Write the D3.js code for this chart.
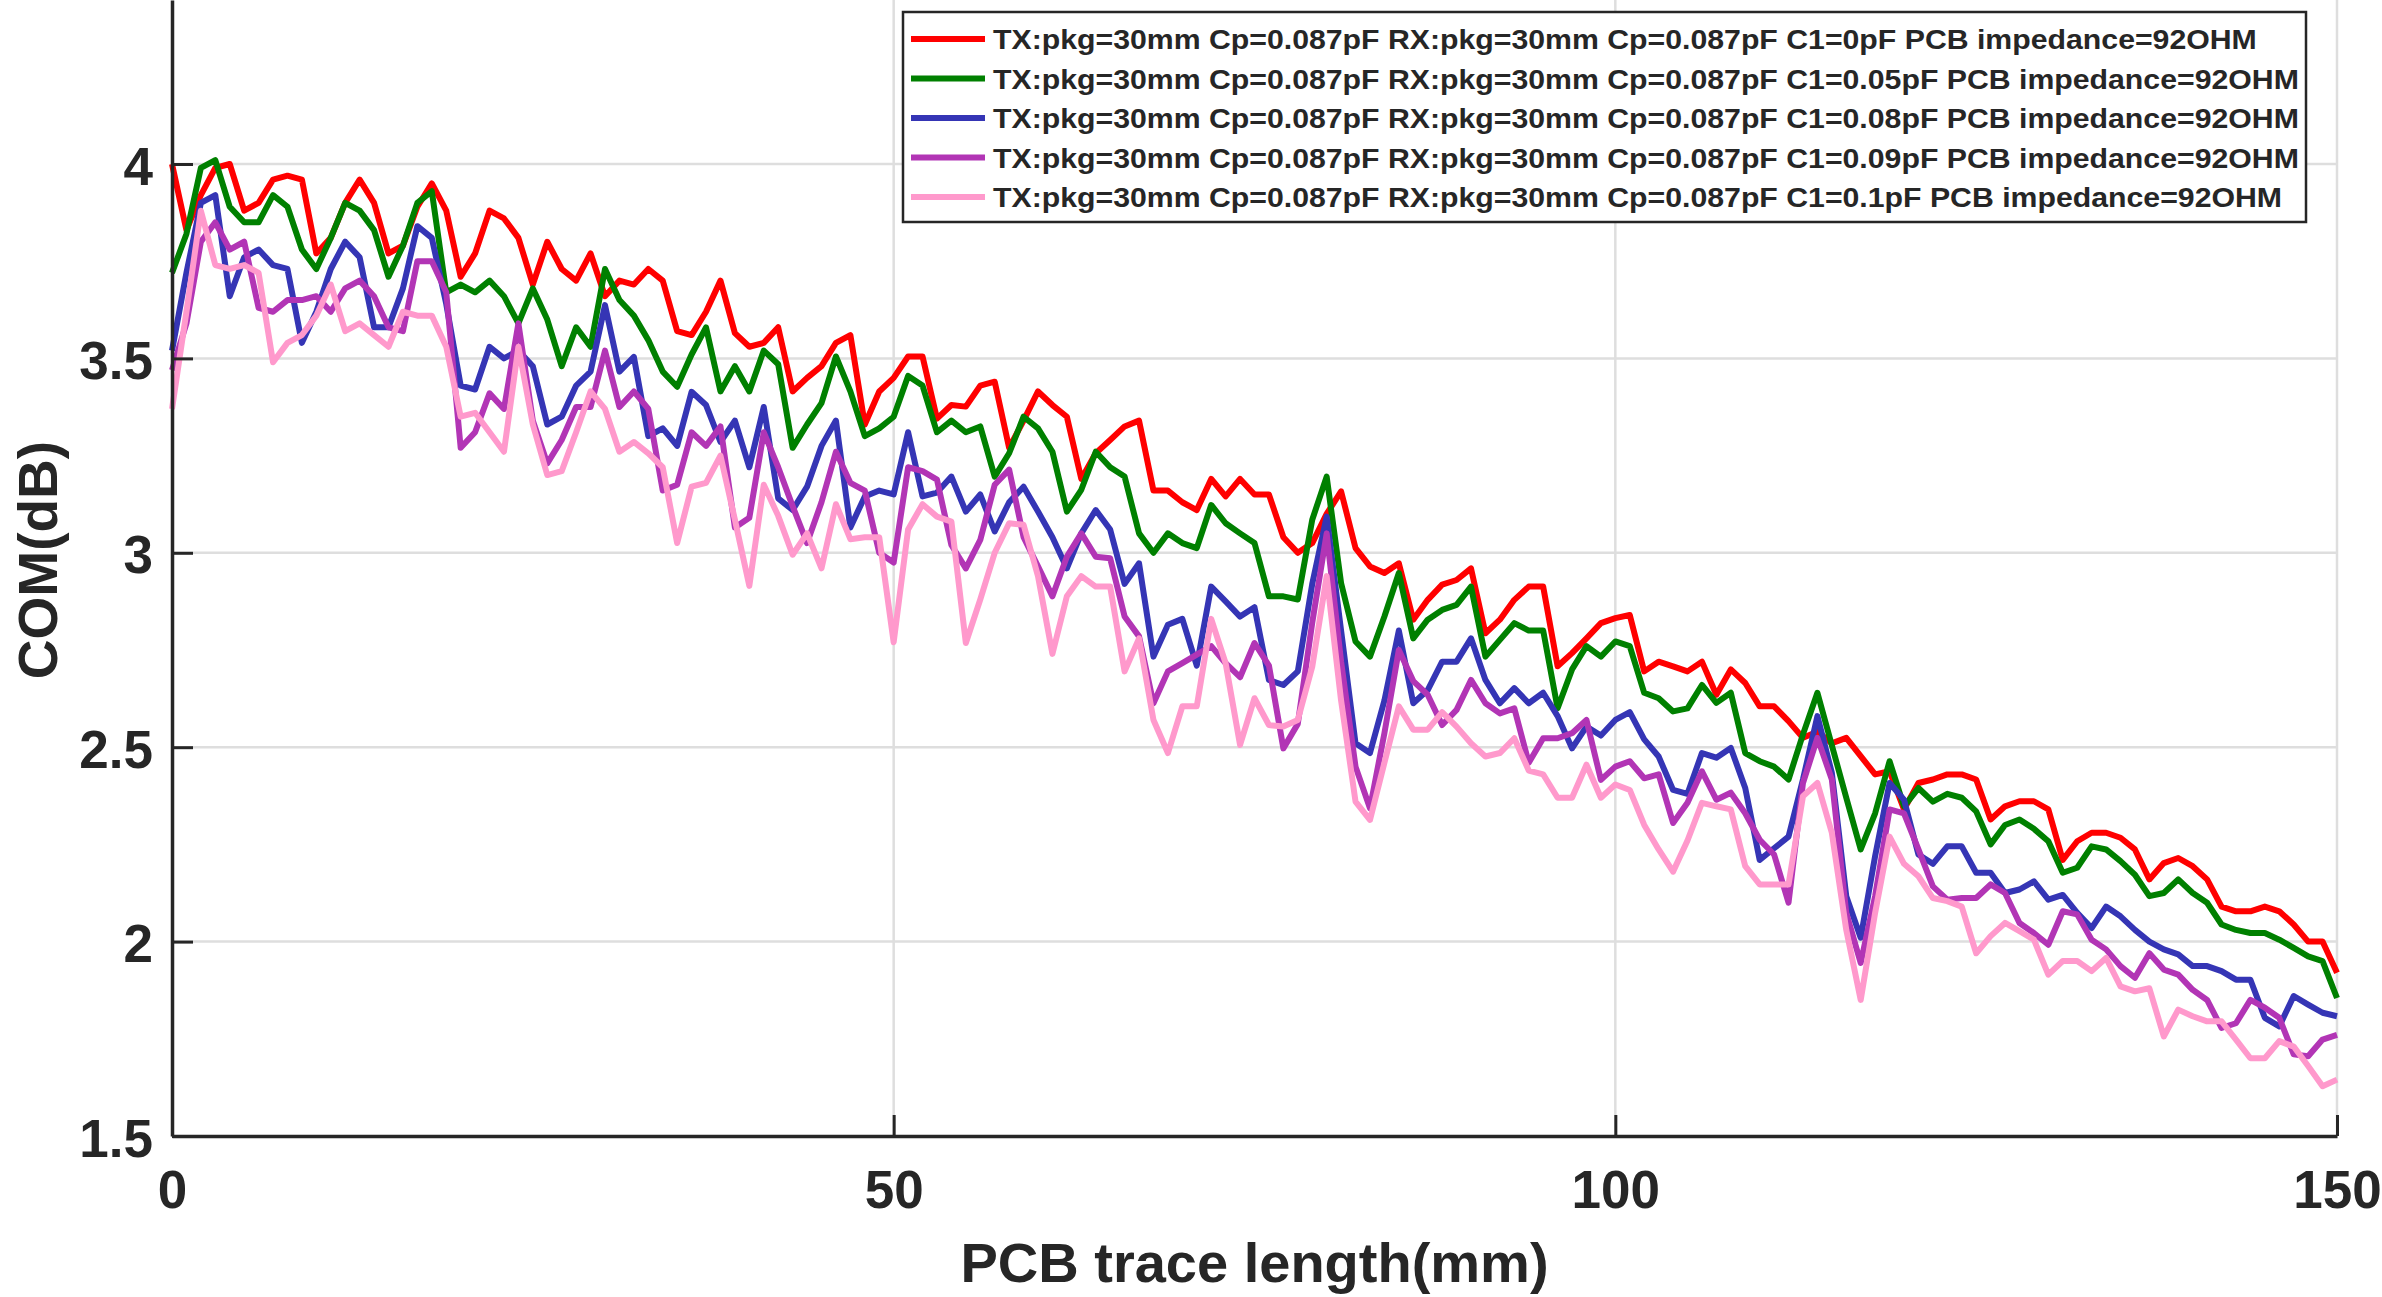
<!DOCTYPE html>
<html>
<head>
<meta charset="utf-8">
<script src="https://cdn.jsdelivr.net/npm/d3@7"></script>
<style>
  body { margin: 0; background: #fff; }
  text { font-family: "Liberation Sans", Arial, Helvetica, sans-serif; font-weight: bold; fill: #262626; }
</style>
</head>
<body>
<script>
// ---- data ----
var traceLength = d3.range(0, 151); // PCB trace length, mm

var comC1_0 = [4.00,3.83,3.92,3.99,4.00,3.88,3.90,3.96,3.97,3.96,3.77,3.81,3.90,3.96,3.90,3.77,3.79,3.89,3.95,3.88,
  3.71,3.77,3.88,3.86,3.81,3.69,3.80,3.73,3.70,3.77,3.66,3.70,3.69,3.73,3.70,3.57,3.56,3.62,3.70,3.565,
  3.53,3.54,3.58,3.415,3.45,3.48,3.54,3.56,3.33,3.415,3.45,3.505,3.505,3.345,3.38,3.376,3.43,3.44,3.27,3.34,
  3.415,3.38,3.35,3.19,3.256,3.29,3.325,3.34,3.16,3.16,3.13,3.11,3.19,3.145,3.19,3.15,3.15,3.04,3.00,3.025,
  3.10,3.158,3.012,2.965,2.948,2.973,2.828,2.879,2.918,2.93,2.96,2.793,2.828,2.879,2.913,2.913,2.708,2.742,2.78,2.819,
  2.832,2.84,2.695,2.72,2.708,2.695,2.72,2.635,2.70,2.665,2.605,2.605,2.567,2.524,2.54,2.51,2.524,2.477,2.43,2.438,
  2.34,2.408,2.417,2.43,2.43,2.417,2.314,2.348,2.361,2.361,2.34,2.21,2.258,2.28,2.28,2.267,2.237,2.16,2.202,2.215,
  2.194,2.16,2.09,2.078,2.078,2.09,2.078,2.044,2.00,2.00,1.92];

var comC1_005 = [3.72,3.82,3.99,4.01,3.89,3.85,3.85,3.92,3.89,3.78,3.73,3.81,3.90,3.88,3.83,3.71,3.79,3.90,3.93,3.67,
  3.69,3.67,3.70,3.66,3.59,3.68,3.60,3.48,3.58,3.53,3.73,3.65,3.61,3.547,3.466,3.427,3.51,3.58,3.415,3.48,
  3.415,3.52,3.485,3.27,3.33,3.385,3.505,3.415,3.30,3.32,3.35,3.455,3.43,3.31,3.34,3.31,3.325,3.196,3.256,3.35,
  3.32,3.26,3.106,3.162,3.26,3.22,3.196,3.05,3.00,3.05,3.025,3.012,3.123,3.076,3.05,3.025,2.888,2.888,2.88,3.085,
  3.196,2.922,2.772,2.733,2.836,2.948,2.78,2.828,2.853,2.866,2.913,2.733,2.776,2.819,2.80,2.80,2.60,2.70,2.76,2.733,
  2.772,2.76,2.64,2.626,2.592,2.60,2.66,2.614,2.64,2.485,2.464,2.45,2.417,2.533,2.64,2.505,2.37,2.237,2.33,2.464,
  2.348,2.395,2.36,2.38,2.37,2.335,2.25,2.30,2.314,2.29,2.258,2.177,2.19,2.245,2.237,2.207,2.172,2.117,2.125,2.16,
  2.125,2.10,2.044,2.03,2.022,2.022,2.005,1.984,1.962,1.95,1.855];

var comC1_008 = [3.52,3.72,3.90,3.92,3.66,3.76,3.78,3.74,3.73,3.54,3.62,3.73,3.80,3.76,3.58,3.58,3.68,3.84,3.81,3.64,
  3.43,3.42,3.53,3.50,3.52,3.48,3.33,3.35,3.43,3.466,3.637,3.466,3.504,3.30,3.32,3.275,3.414,3.38,3.285,3.34,
  3.22,3.375,3.14,3.11,3.17,3.275,3.34,3.065,3.145,3.16,3.15,3.31,3.145,3.155,3.196,3.106,3.15,3.055,3.13,3.17,
  3.106,3.04,2.96,3.05,3.11,3.06,2.92,2.973,2.733,2.815,2.83,2.71,2.913,2.875,2.836,2.86,2.673,2.66,2.695,2.92,
  3.093,2.80,2.51,2.485,2.62,2.80,2.613,2.647,2.72,2.72,2.78,2.673,2.613,2.652,2.613,2.64,2.58,2.497,2.553,2.53,
  2.57,2.59,2.52,2.476,2.39,2.38,2.485,2.473,2.498,2.395,2.21,2.24,2.27,2.417,2.58,2.434,2.117,2.01,2.22,2.408,
  2.365,2.224,2.20,2.245,2.245,2.177,2.177,2.125,2.134,2.155,2.108,2.12,2.074,2.035,2.09,2.065,2.03,2.00,1.98,1.967,
  1.937,1.937,1.924,1.902,1.902,1.804,1.782,1.86,1.838,1.817,1.808];

var comC1_009 = [3.47,3.59,3.80,3.85,3.78,3.80,3.63,3.62,3.65,3.65,3.66,3.62,3.68,3.70,3.66,3.58,3.57,3.75,3.75,3.67,
  3.27,3.31,3.41,3.37,3.59,3.34,3.23,3.29,3.375,3.375,3.52,3.375,3.415,3.37,3.16,3.175,3.31,3.275,3.325,3.065,
  3.09,3.31,3.22,3.12,3.025,3.13,3.26,3.18,3.16,3.00,2.975,3.22,3.21,3.188,3.02,2.96,3.033,3.175,3.214,3.04,
  2.965,2.888,2.99,3.05,2.99,2.986,2.836,2.785,2.613,2.695,2.716,2.738,2.76,2.716,2.68,2.768,2.71,2.497,2.56,2.82,
  3.05,2.72,2.45,2.343,2.536,2.75,2.67,2.635,2.557,2.596,2.673,2.613,2.587,2.60,2.46,2.523,2.523,2.536,2.57,2.416,
  2.45,2.464,2.42,2.43,2.305,2.357,2.438,2.365,2.383,2.33,2.262,2.224,2.10,2.408,2.524,2.417,2.074,1.945,2.117,2.34,
  2.33,2.237,2.142,2.108,2.112,2.112,2.147,2.125,2.048,2.022,1.992,2.078,2.07,2.005,1.98,1.937,1.907,1.97,1.928,1.915,
  1.876,1.85,1.778,1.79,1.85,1.83,1.804,1.71,1.705,1.748,1.76];

var comC1_01 = [3.37,3.62,3.88,3.74,3.73,3.74,3.72,3.49,3.54,3.56,3.61,3.69,3.57,3.59,3.56,3.53,3.62,3.61,3.61,3.53,
  3.35,3.36,3.31,3.26,3.53,3.33,3.20,3.21,3.31,3.415,3.37,3.26,3.285,3.256,3.22,3.025,3.17,3.18,3.25,3.085,
  2.915,3.175,3.095,2.995,3.05,2.96,3.125,3.035,3.04,3.04,2.77,3.06,3.125,3.093,3.08,2.768,2.88,3.00,3.076,3.072,
  2.94,2.74,2.888,2.94,2.913,2.913,2.695,2.78,2.57,2.485,2.605,2.605,2.83,2.716,2.506,2.626,2.557,2.553,2.57,2.707,
  2.94,2.62,2.36,2.313,2.46,2.605,2.545,2.545,2.59,2.553,2.51,2.476,2.485,2.523,2.44,2.43,2.37,2.37,2.455,2.37,
  2.404,2.39,2.30,2.237,2.18,2.26,2.357,2.348,2.34,2.194,2.147,2.147,2.147,2.374,2.408,2.28,2.03,1.85,2.074,2.27,
  2.20,2.168,2.112,2.104,2.09,1.97,2.014,2.048,2.027,2.005,1.915,1.95,1.95,1.924,1.958,1.885,1.872,1.88,1.756,1.825,
  1.808,1.795,1.795,1.748,1.70,1.70,1.744,1.73,1.68,1.628,1.645];

var seriesNames = [
  "TX:pkg=30mm Cp=0.087pF RX:pkg=30mm Cp=0.087pF C1=0pF PCB impedance=92OHM",
  "TX:pkg=30mm Cp=0.087pF RX:pkg=30mm Cp=0.087pF C1=0.05pF PCB impedance=92OHM",
  "TX:pkg=30mm Cp=0.087pF RX:pkg=30mm Cp=0.087pF C1=0.08pF PCB impedance=92OHM",
  "TX:pkg=30mm Cp=0.087pF RX:pkg=30mm Cp=0.087pF C1=0.09pF PCB impedance=92OHM",
  "TX:pkg=30mm Cp=0.087pF RX:pkg=30mm Cp=0.087pF C1=0.1pF PCB impedance=92OHM"
];
var seriesValues = [comC1_0, comC1_005, comC1_008, comC1_009, comC1_01];
var seriesColors = ["#ff0000", "#008000", "#3535b5", "#b235b5", "#ff99cc"];

var xTicks = [0, 50, 100, 150];
var yTicks = [1.5, 2, 2.5, 3, 3.5, 4];

// ---- layout ----
var width = 2382, height = 1297;
var plot = { left: 172, right: 2337, top: 0, bottom: 1136 };

var svg = d3.select("body").append("svg")
  .attr("width", width)
  .attr("height", height)
  .style("display", "block");

svg.append("rect").attr("width", width).attr("height", height).attr("fill", "#fff");

var x = d3.scaleLinear().domain([0, 150]).range([plot.left, plot.right]);
var y = d3.scaleLinear().domain([1.5, 4.4218]).range([plot.bottom, plot.top]);

// grid
var grid = svg.append("g").attr("class", "grid");
grid.selectAll("line.gx")
  .data(xTicks.filter(function(d) { return d > 0; }))
  .enter().append("line")
  .attr("x1", function(d) { return x(d); })
  .attr("x2", function(d) { return x(d); })
  .attr("y1", plot.top)
  .attr("y2", plot.bottom)
  .attr("stroke", "#dedede")
  .attr("stroke-width", 2.5);
grid.selectAll("line.gy")
  .data(yTicks.filter(function(d) { return d > 1.5; }))
  .enter().append("line")
  .attr("x1", plot.left)
  .attr("x2", plot.right)
  .attr("y1", function(d) { return y(d); })
  .attr("y2", function(d) { return y(d); })
  .attr("stroke", "#dedede")
  .attr("stroke-width", 2.5);

// lines
var line = d3.line()
  .x(function(d, i) { return x(traceLength[i]); })
  .y(function(d) { return y(d); });

svg.append("g").selectAll("path")
  .data(seriesValues)
  .enter().append("path")
  .attr("d", line)
  .attr("fill", "none")
  .attr("stroke", function(d, i) { return seriesColors[i]; })
  .attr("stroke-width", 6)
  .attr("stroke-linejoin", "round");

// axes
var xAxis = d3.axisBottom(x).tickValues(xTicks).tickSizeInner(-21).tickSizeOuter(0).tickPadding(34);
var yAxis = d3.axisLeft(y).tickValues(yTicks).tickSizeInner(-21).tickSizeOuter(0).tickPadding(19)
  .tickFormat(d3.format(""));

var gx = svg.append("g")
  .attr("transform", "translate(0," + plot.bottom + ")")
  .call(xAxis);
var gy = svg.append("g")
  .attr("transform", "translate(" + plot.left + ",0)")
  .call(yAxis);

[gx, gy].forEach(function(g) {
  g.attr("font-size", null).attr("font-family", null);
  g.select(".domain").attr("stroke", "#262626").attr("stroke-width", 3.5);
  g.selectAll(".tick line").attr("stroke", "#262626").attr("stroke-width", 3);
  g.selectAll(".tick text").style("font-size", "53px").attr("fill", "#262626");
});
gy.selectAll(".tick text").attr("dy", "0.38em");

// axis titles
svg.append("text")
  .attr("x", (plot.left + plot.right) / 2)
  .attr("y", 1282)
  .attr("text-anchor", "middle")
  .style("font-size", "56px")
  .text("PCB trace length(mm)");

svg.append("text")
  .attr("transform", "translate(57,560) rotate(-90)")
  .attr("text-anchor", "middle")
  .style("font-size", "55px")
  .text("COM(dB)");

// legend
var legend = svg.append("g");
legend.append("rect")
  .attr("x", 903).attr("y", 12)
  .attr("width", 1403).attr("height", 210)
  .attr("fill", "#fff")
  .attr("stroke", "#262626")
  .attr("stroke-width", 2.5);

var rows = legend.selectAll("g.row")
  .data(seriesNames)
  .enter().append("g")
  .attr("transform", function(d, i) { return "translate(0," + (39 + i * 39.5) + ")"; });

rows.append("line")
  .attr("x1", 911).attr("x2", 985)
  .attr("stroke", function(d, i) { return seriesColors[i]; })
  .attr("stroke-width", 6);

// the legend font in the figure runs wider than Liberation Sans, so stretch each row a bit
rows.append("text")
  .attr("x", 993)
  .attr("dy", "0.36em")
  .style("font-size", "28px")
  .text(function(d) { return d; })
  .each(function() {
    var len = this.getComputedTextLength();
    d3.select(this)
      .attr("textLength", len * 1.08)
      .attr("lengthAdjust", "spacingAndGlyphs");
  });
</script>
</body>
</html>
